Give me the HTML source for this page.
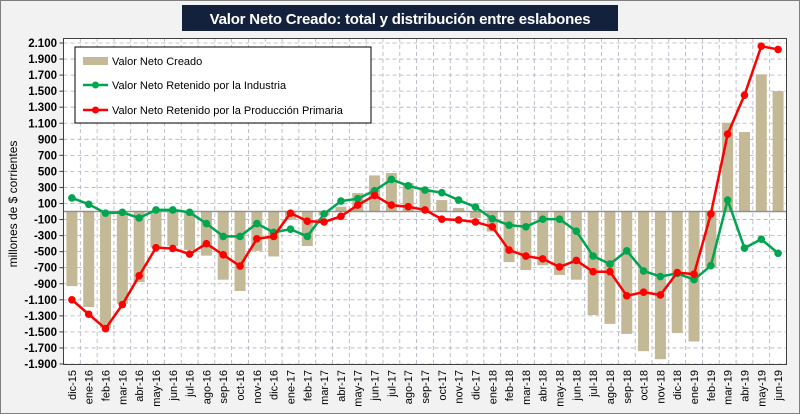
<!DOCTYPE html>
<html><head><meta charset="utf-8"><style>
body{margin:0;background:#fff;}
svg{display:block;font-family:"Liberation Sans",sans-serif;}
</style></head><body>
<svg width="800" height="414" viewBox="0 0 800 414">
<rect x="0.5" y="0.5" width="799" height="413" fill="#f2f2f2" stroke="#7f7f7f"/>
<rect x="63.5" y="38.5" width="723" height="326" fill="#fff"/>
<rect x="182" y="5" width="436" height="26" fill="#14213d"/>
<text x="400" y="24" text-anchor="middle" fill="#fff" font-weight="bold" font-size="15" letter-spacing="-0.2">Valor Neto Creado: total y distribución entre eslabones</text>
<g id="grid"></g><g id="bars"></g><g id="lines"></g><g id="axes"></g>
<rect x="63.5" y="38.5" width="723" height="326" fill="none" stroke="#404040" stroke-width="1"/>
<text transform="translate(17,204) rotate(-90)" text-anchor="middle" font-size="12" fill="#000">millones de $ corrientes</text>
<g>
<rect x="75" y="47" width="296" height="76" fill="#fff" stroke="#000"/>
<rect x="83" y="57" width="25" height="8" fill="#c4b996"/>
<text x="112" y="65" font-size="11">Valor Neto Creado</text>
<line x1="83" y1="85" x2="108" y2="85" stroke="#00a550" stroke-width="2.5"/><circle cx="95.5" cy="85" r="3.5" fill="#00a550"/>
<text x="112" y="89" font-size="11">Valor Neto Retenido por la Industria</text>
<line x1="83" y1="110" x2="108" y2="110" stroke="#ff0000" stroke-width="2.5"/><circle cx="95.5" cy="110" r="3.5" fill="#ff0000"/>
<text x="112" y="114" font-size="11">Valor Neto Retenido por la Producción Primaria</text>
</g>
</svg>
<script>
const categories=["dic-15","ene-16","feb-16","mar-16","abr-16","may-16","jun-16","jul-16","ago-16","sep-16","oct-16","nov-16","dic-16","ene-17","feb-17","mar-17","abr-17","may-17","jun-17","jul-17","ago-17","sep-17","oct-17","nov-17","dic-17","ene-18","feb-18","mar-18","abr-18","may-18","jun-18","jul-18","ago-18","sep-18","oct-18","nov-18","dic-18","ene-19","feb-19","mar-19","abr-19","may-19","jun-19"];
const valorNeto=[-930,-1190,-1450,-1150,-880,-450,-430,-480,-550,-850,-990,-490,-560,-100,-430,-50,60,230,450,480,355,280,143,45,-80,-250,-630,-730,-670,-790,-850,-1290,-1400,-1525,-1740,-1840,-1515,-1620,-700,1107,990,1710,1500];
const industria=[170,90,-20,-10,-80,20,20,-10,-150,-310,-310,-150,-260,-220,-310,-30,130,160,260,400,320,268,235,143,55,-90,-170,-190,-95,-95,-245,-555,-655,-490,-740,-810,-770,-850,-675,143,-455,-345,-520];
const produccion=[-1100,-1280,-1460,-1160,-800,-450,-460,-530,-400,-540,-680,-340,-310,-20,-120,-130,-60,80,200,80,60,20,-95,-105,-130,-190,-480,-555,-590,-690,-610,-750,-750,-1050,-1005,-1040,-760,-780,-30,965,1450,2060,2020];
const yTicks=[2100,1900,1700,1500,1300,1100,900,700,500,300,100,-100,-300,-500,-700,-900,-1100,-1300,-1500,-1700,-1900];
const NS="http://www.w3.org/2000/svg";
const L=63.5,R=786.5,T=43,B=364,yMax=2100,yMin=-1900;
const step=(R-L)/categories.length;
const x=i=>L+step*(i+0.5);
const y=v=>T+(yMax-v)*(B-T)/(yMax-yMin);
function mk(tag,attrs,parent){const e=document.createElementNS(NS,tag);for(const k in attrs)e.setAttribute(k,attrs[k]);document.getElementById(parent).appendChild(e);return e;}
yTicks.forEach(t=>{
  const g=mk('line',{x1:L,x2:R,y1:y(t),y2:y(t),stroke:'#b0b0c0','stroke-dasharray':'4,3','stroke-width':0.8},'grid');
  
  
  const tk=mk('line',{x1:L-4,x2:L,y1:y(t),y2:y(t),stroke:'#404040','stroke-width':1},'axes');
  
  
  const lb=mk('text',{x:57,y:y(t)+4,'text-anchor':'end','font-size':11.5,'font-weight':'bold'},'axes');
  lb.textContent=t.toLocaleString('de-DE');
  
  
});
categories.forEach((c,i)=>{
  if(i>0){const v=mk('line',{x1:L+step*i,x2:L+step*i,y1:38,y2:364,stroke:'#b0b0c0','stroke-dasharray':'4,3','stroke-width':0.8},'grid');
  
  }
  const t=mk('text',{transform:`translate(${x(i)+4},370) rotate(-90)`,'text-anchor':'end','font-size':11},'axes');
  t.textContent=c;
  
  
  const v=valorNeto[i];
  const b=mk('rect',{x:x(i)-5.5,width:11,y:Math.min(y(v),y(0)),height:Math.abs(y(v)-y(0)),fill:'#c4b996'},'bars');
  
  
});
const z=mk('line',{x1:L,x2:R,y1:y(0),y2:y(0),stroke:'#909090','stroke-width':1.5},'bars');


function series(vals,color,name){
  const p=mk('polyline',{points:vals.map((v,i)=>x(i)+','+y(v)).join(' '),fill:'none',stroke:color,'stroke-width':2.5},'lines');
  
  
  vals.forEach((v,i)=>{const c=mk('circle',{cx:x(i),cy:y(v),r:3.8,fill:color},'lines');
  
  });
}
series(industria,'#00a550','industria');
series(produccion,'#ff0000','produccion');
</script>
</body></html>
